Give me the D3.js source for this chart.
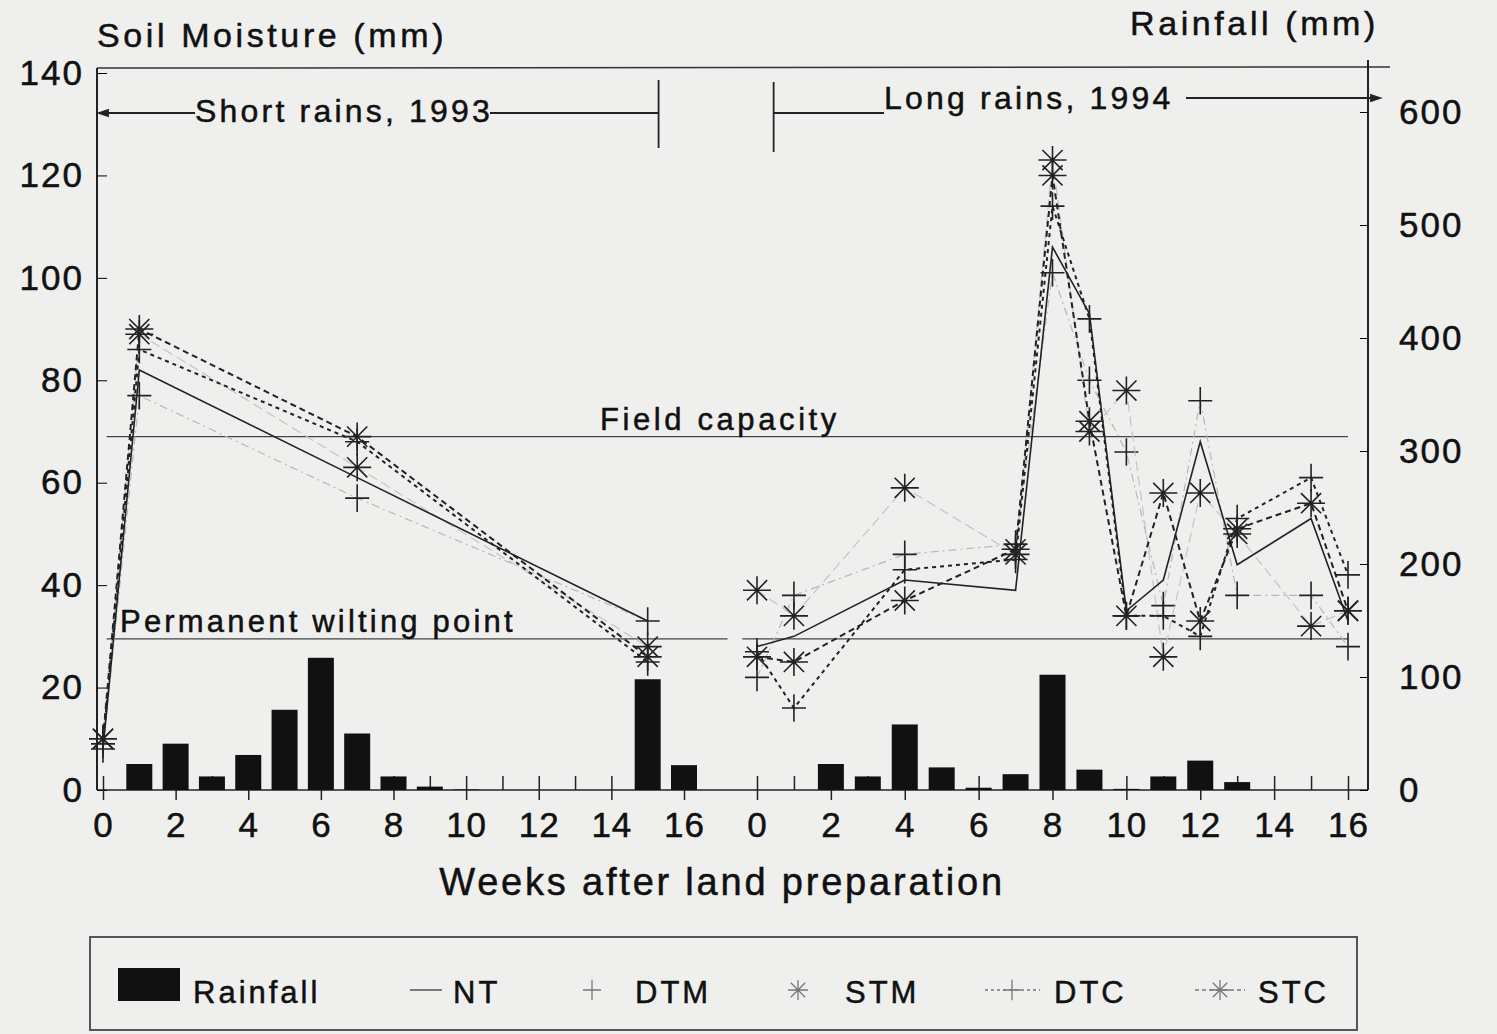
<!DOCTYPE html>
<html>
<head>
<meta charset="utf-8">
<script src="https://cdn.jsdelivr.net/npm/d3@7"></script>
<style>
  body { margin: 0; background: #efefed; }
  svg { display: block; }
  text { font-family: "Liberation Sans", Arial, sans-serif; fill: #111; stroke: #111; stroke-width: 0.5; }
</style>
</head>
<body>
<svg id="chart" width="1497" height="1034"></svg>
<script>
/****** Data ***************************/
// weeks after land preparation (two seasons, each 0..16)
const weeksShort = [0, 1, 7, 15];
const weeksLong = [0, 1, 4, 7, 8, 9, 10, 11, 12, 13, 15, 16];

// soil moisture (mm), short rains 1993
const ntShort  = [8, 82, 61, 33];
const dtmShort = [8, 77, 57, 33];
const stmShort = [10, 89, 63, 28];
const dtcShort = [9, 86, 68, 25];
const stcShort = [10, 90, 69, 26];

// soil moisture (mm), long rains 1994
const ntLong  = [28, 30, 41, 39, 106, 93, 35, 41, 68, 44, 53, 33];
const dtmLong = [22, 38, 46, 48, 101, 80, 66, 36, 76, 38, 38, 28];
const stmLong = [39, 34, 59, 46, 123, 70, 78, 26, 58, 50, 32, 35];
const dtcLong = [27, 16, 43, 45, 114, 92, 34, 34, 30, 53, 61, 42];
const stcLong = [26, 25, 37, 47, 120, 72, 34, 58, 33, 51, 56, 35];

// weekly rainfall (mm)
const rainWeeks = d3.range(0, 17);
const rainShort = [0, 23, 41, 12, 31, 71, 117, 50, 12, 3, 0.5, 0, 0, 0, 0, 98, 22];
const rainLong  = [0, 0, 23, 12, 58, 20, 2, 14, 102, 18, 1, 12, 26, 7, 0, 0, 0];

const leftTicks = [0, 20, 40, 60, 80, 100, 120, 140];
const rightTicks = [0, 100, 200, 300, 400, 500, 600];
const fieldCapacity = 69;
const wiltingPoint = 29.5;

/****** Scales *******/
var svg = d3.select("#chart");

var x0 = d3.scaleLinear().domain([0, 16]).range([103, 684]);
var x1 = d3.scaleLinear().domain([0, 16]).range([757, 1348]);
var yL = d3.scaleLinear().domain([0, 140]).range([790, 73]);
var yR = d3.scaleLinear().domain([0, 600]).range([790, 112]);

var axisLeftX = 97, axisRightX = 1368;

/** frame **/
svg.append("line")
    .attr("x1", axisLeftX).attr("x2", 1390)
    .attr("y1", 68).attr("y2", 67)
    .attr("stroke", "#333").attr("stroke-width", 1.5);
svg.append("line")
    .attr("x1", axisLeftX).attr("x2", axisRightX)
    .attr("y1", 790).attr("y2", 790)
    .attr("stroke", "#222").attr("stroke-width", 1.5);

/** left axis **/
var gl = svg.append("g")
    .attr("transform", "translate(" + axisLeftX + ",0)")
    .call(d3.axisLeft(yL).tickValues(leftTicks).tickSize(-10).tickPadding(13));
gl.select(".domain").attr("d", "M0,68V790").attr("stroke", "#222").attr("stroke-width", 2);
gl.selectAll("text").attr("font-size", 35).attr("fill", "#111").attr("letter-spacing", 2);

/** right axis **/
var gr = svg.append("g")
    .attr("transform", "translate(" + axisRightX + ",0)")
    .call(d3.axisRight(yR).tickValues(rightTicks).tickSize(-8).tickPadding(31));
gr.select(".domain").attr("d", "M0,60V790").attr("stroke", "#222").attr("stroke-width", 2);
gr.selectAll("text").attr("font-size", 35).attr("fill", "#111").attr("letter-spacing", 2);

/** bottom axes (one per season) **/
function weekAxis(scale) {
    var g = svg.append("g")
        .attr("transform", "translate(0,790)")
        .call(d3.axisBottom(scale).tickValues(rainWeeks)
            .tickFormat(function (d) { return d % 2 === 0 ? d : ""; })
            .tickSize(10).tickPadding(12));
    g.select(".domain").remove();
    g.selectAll(".tick line")
        .attr("y1", -14)
        .attr("y2", function (d) { return d % 2 === 0 ? 10 : 0; })
        .attr("stroke", "#222").attr("stroke-width", 1.5);
    g.selectAll("text").attr("font-size", 35).attr("fill", "#111").attr("letter-spacing", 1);
}
weekAxis(x0);
weekAxis(x1);

/** rainfall bars **/
function drawBars(scale, values) {
    svg.append("g").selectAll("rect")
        .data(values)
        .enter().append("rect")
        .attr("x", function (d, i) { return scale(rainWeeks[i]) - 13; })
        .attr("y", function (d) { return yR(d); })
        .attr("width", 26)
        .attr("height", function (d) { return 790 - yR(d); })
        .attr("fill", "#111");
}
drawBars(x0, rainShort);
drawBars(x1, rainLong);

/** reference lines **/
svg.append("line")
    .attr("x1", x0(0.1)).attr("x2", x1(16))
    .attr("y1", yL(fieldCapacity)).attr("y2", yL(fieldCapacity))
    .attr("stroke", "#444").attr("stroke-width", 1.3);
svg.append("line")
    .attr("x1", x0(0.1)).attr("x2", x0(17.2))
    .attr("y1", yL(wiltingPoint)).attr("y2", yL(wiltingPoint))
    .attr("stroke", "#444").attr("stroke-width", 1.3);
svg.append("line")
    .attr("x1", x1(-0.4)).attr("x2", x1(16))
    .attr("y1", yL(wiltingPoint)).attr("y2", yL(wiltingPoint))
    .attr("stroke", "#444").attr("stroke-width", 1.3);

svg.append("text").attr("x", 600).attr("y", 430)
    .attr("font-size", 31).attr("letter-spacing", 3.6).text("Field capacity");
svg.append("text").attr("x", 120).attr("y", 632)
    .attr("font-size", 31).attr("letter-spacing", 3.2).text("Permanent  wilting point");

/** soil moisture series **/
var series = [
    {name: "DTM", marker: "plus", stroke: "#b8b8b8", width: 1.2, dash: "8,4,2,4"},
    {name: "STM", marker: "star", stroke: "#c4c4c4", width: 1.2, dash: "10,5"},
    {name: "DTC", marker: "plus", stroke: "#222", width: 2, dash: "4,4"},
    {name: "STC", marker: "star", stroke: "#222", width: 2, dash: "6,4"},
    {name: "NT", marker: null, stroke: "#222", width: 1.6, dash: null}
];
var shortData = {NT: ntShort, DTM: dtmShort, STM: stmShort, DTC: dtcShort, STC: stcShort};
var longData = {NT: ntLong, DTM: dtmLong, STM: stmLong, DTC: dtcLong, STC: stcLong};

function markerPath(type, s) {
    if (type === "plus") {
        return "M" + (-s) + ",0H" + s + "M0," + (-s * 1.15) + "V" + (s * 1.15);
    }
    var a = s * 0.72;
    return "M" + (-s) + ",0H" + s + "M0," + (-s) + "V" + s +
        "M" + (-a) + "," + (-a) + "L" + a + "," + a +
        "M" + (-a) + "," + a + "L" + a + "," + (-a);
}

function drawSeason(scale, weeks, data) {
    series.forEach(function (s) {
        var pts = weeks.map(function (w, i) { return [w, data[s.name][i]]; });
        var line = d3.line()
            .x(function (d) { return scale(d[0]); })
            .y(function (d) { return yL(d[1]); });
        svg.append("path")
            .datum(pts)
            .attr("fill", "none")
            .attr("stroke", s.stroke)
            .attr("stroke-width", s.width)
            .attr("stroke-dasharray", s.dash)
            .attr("d", line);
        if (s.marker) {
            svg.append("g").selectAll("path")
                .data(pts)
                .enter().append("path")
                .attr("transform", function (d) {
                    return "translate(" + scale(d[0]) + "," + yL(d[1]) + ")";
                })
                .attr("d", markerPath(s.marker, s.marker === "plus" ? 12 : 14))
                .attr("fill", "none")
                .attr("stroke", "#222")
                .attr("stroke-width", 1.6);
        }
    });
}
drawSeason(x0, weeksShort, shortData);
drawSeason(x1, weeksLong, longData);

/** season annotations **/
var ann = svg.append("g").attr("stroke", "#222").attr("stroke-width", 1.8).attr("fill", "none");
var sy = 113, ly = 98;
ann.append("path").attr("d", "M" + (axisLeftX + 2) + "," + sy + "H195");
ann.append("path").attr("d", "M" + (axisLeftX + 2) + "," + sy + "l9,-3v6z").attr("fill", "#222");
ann.append("path").attr("d", "M490," + sy + "H" + x0(15.3));
ann.append("path").attr("d", "M" + x0(15.3) + ",80V148");
ann.append("path").attr("d", "M" + x1(0.45) + ",82V152");
ann.append("path").attr("d", "M" + x1(0.45) + "," + sy + "H884");
ann.append("path").attr("d", "M1186," + ly + "H" + (axisRightX + 10));
ann.append("path").attr("d", "M" + (axisRightX + 12) + "," + ly + "l-9,-3v6z").attr("fill", "#222");

svg.append("text").attr("x", 195).attr("y", 122)
    .attr("font-size", 32).attr("letter-spacing", 3.2).text("Short rains, 1993");
svg.append("text").attr("x", 884).attr("y", 109)
    .attr("font-size", 32).attr("letter-spacing", 3.2).text("Long rains, 1994");

/** axis titles **/
svg.append("text").attr("x", 97).attr("y", 47)
    .attr("font-size", 34).attr("letter-spacing", 3.6).text("Soil Moisture (mm)");
svg.append("text").attr("x", 1130).attr("y", 35)
    .attr("font-size", 34).attr("letter-spacing", 3.6).text("Rainfall (mm)");
svg.append("text").attr("x", 722).attr("y", 895)
    .attr("text-anchor", "middle")
    .attr("font-size", 38).attr("letter-spacing", 2.8).text("Weeks after land preparation");

/** legend **/
var lg = svg.append("g");
lg.append("rect").attr("x", 90).attr("y", 937).attr("width", 1267).attr("height", 93)
    .attr("fill", "none").attr("stroke", "#555").attr("stroke-width", 2);
lg.append("rect").attr("x", 118).attr("y", 968).attr("width", 62).attr("height", 33).attr("fill", "#111");
var legendText = [["Rainfall", 193], ["NT", 453], ["DTM", 635], ["STM", 845], ["DTC", 1054], ["STC", 1258]];
legendText.forEach(function (t) {
    lg.append("text").attr("x", t[1]).attr("y", 1003)
        .attr("font-size", 31).attr("letter-spacing", 3).text(t[0]);
});
lg.append("line").attr("x1", 410).attr("x2", 442).attr("y1", 990).attr("y2", 990)
    .attr("stroke", "#555").attr("stroke-width", 1.5);
lg.append("path").attr("transform", "translate(592,990)").attr("d", markerPath("plus", 9))
    .attr("stroke", "#777").attr("stroke-width", 1.3).attr("fill", "none");
lg.append("path").attr("transform", "translate(798,990)").attr("d", markerPath("star", 10))
    .attr("stroke", "#777").attr("stroke-width", 1.3).attr("fill", "none");
lg.append("line").attr("x1", 985).attr("x2", 1040).attr("y1", 990).attr("y2", 990)
    .attr("stroke", "#777").attr("stroke-width", 1.5).attr("stroke-dasharray", "3,3");
lg.append("path").attr("transform", "translate(1012,990)").attr("d", markerPath("plus", 9))
    .attr("stroke", "#777").attr("stroke-width", 1.3).attr("fill", "none");
lg.append("line").attr("x1", 1195).attr("x2", 1245).attr("y1", 990).attr("y2", 990)
    .attr("stroke", "#777").attr("stroke-width", 1.5).attr("stroke-dasharray", "4,3");
lg.append("path").attr("transform", "translate(1220,990)").attr("d", markerPath("star", 10))
    .attr("stroke", "#777").attr("stroke-width", 1.3).attr("fill", "none");
</script>
</body>
</html>
